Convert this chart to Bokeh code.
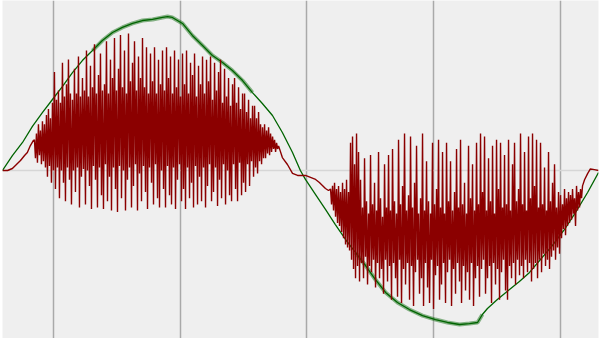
import numpy as np
from bokeh.plotting import figure
from bokeh.models import Range1d, Grid, FixedTicker
from bokeh.embed import file_html
from bokeh.resources import INLINE

# ---- data (time units, signal in % of green amplitude) ----
x_ticks = [0, 5, 10, 15, 20]
y_ticks = [0]

green_t = [-2.01, -1.62, -1.22, -0.83, -0.43, -0.04, 0.35, 0.75, 1.14, 1.54, 1.93, 2.33, 2.72,
           3.12, 3.51, 3.91, 4.30, 4.50, 4.69, 5.09, 5.48, 5.88, 6.27, 6.67, 7.06, 7.46, 7.85,
           8.24, 8.64, 9.03, 9.43, 9.74, 9.94, 10.34, 10.73, 11.12, 11.52, 11.91, 12.31, 12.70,
           13.10, 13.57, 14.04, 14.56, 15.07, 15.54, 16.02, 16.41, 16.73, 16.92, 17.12, 17.51,
           17.99, 18.38, 18.78, 19.21, 19.68, 20.16, 20.59, 21.07, 21.50]
green_v = [0, 9.7, 18.2, 28.6, 37.7, 46.1, 54.5, 63.6, 71.4, 77.9, 84.4, 89.6, 92.9,
           95.5, 97.4, 98.1, 99.4, 100.0, 99.4, 95.5, 87.7, 81.2, 74.7, 70.1, 64.9, 58.4, 50.6,
           43.5, 35.7, 24.7, 11.7, 0, -5.8, -15.6, -25.3, -35.1, -44.8, -53.2, -61.7, -70.8,
           -79.2, -85.7, -90.3, -94.2, -96.8, -98.7, -100.0, -99.4, -98.7, -93.5, -89.6, -83.8,
           -77.3, -72.1, -66.2, -57.8, -48.7, -38.3, -27.3, -14.3, -1.3]
green_fuzz_spans = [(1.5, 7.9), (11.9, 16.95)]

red_lead_t = [-2.01, -1.81, -1.62, -1.46, -1.30, -1.14, -1.03, -0.91, -0.79]
red_lead_v = [0, 0, 1.3, 3.9, 6.5, 9.7, 11.7, 16.2, 19.5]

red_burst1_span = (-0.75, 8.88)
red_burst1_v = [
    20, 8, 24, 5, 30, 10, 26, 4, 32, 6,
    30, 2, 36, -4, 40, 3, 34, -8, 44, 0,
    64, -12, 46, 2, 52, -18, 44, 0, 70, -8,
    48, -20, 56, 2, 72, -6, 50, -22, 46, 0,
    66, -14, 50, 2, 74, -24, 48, -4, 60, 1,
    52, -22, 78, 0, 48, -10, 68, -25, 54, 3,
    82, -6, 50, -24, 62, 2, 76, -16, 52, -25,
    56, 4, 84, -20, 50, -4, 72, -26, 60, 2,
    86, -12, 52, -27, 66, 3, 88, -18, 54, 0,
    78, -26, 50, -6, 89, 2, 58, -24, 70, -10,
    84, 4, 52, -26, 74, -2, 60, -20, 86, 3,
    54, -14, 80, -25, 50, 2, 76, -8, 58, -22,
    80, 4, 50, -18, 72, -24, 56, 0, 78, -12,
    52, -24, 80, 3, 60, -16, 74, -22, 50, 2,
    78, -25, 54, -6, 72, 4, 48, -20, 76, -12,
    56, -25, 78, 2, 50, -18, 70, -8, 62, -24,
    76, 3, 48, -22, 68, -4, 56, -20, 74, 2,
    50, -24, 72, -10, 58, 4, 74, -20, 46, -14,
    70, 2, 52, -23, 64, -6, 72, -18, 44, 4,
    66, -22, 48, 0, 60, -16, 42, -20, 56, 4,
    60, -12, 44, -20, 54, 5, 40, -16, 50, -8,
    50, -14, 38, 4, 46, -10, 34, 6, 42, -4,
    42, 2, 34, -2, 38, 6, 30, 4, 28, 8,
    30, 8, 26, 11, 28, 10, 24, 12, 22, 14,
    20, 12, 18, 14, 16]

red_mid_t = [9.03, 9.23, 9.43, 9.63, 9.94, 10.14, 10.34, 10.49, 10.61, 10.73, 10.85]
red_mid_v = [8.4, 3.9, -1.9, -3.2, -3.2, -4.5, -5.8, -7.8, -9.7, -11.7, -13.0]

red_burst2_span = (10.93, 20.87)
red_burst2_v = [
    -12, -22, -10, -26, -8, -30, -12, -34, -10, -36,
    -14, -40, -8, -44, -12, -48, -6, -50, -14, -52,
    18, -58, 22, -64, 4, -70, 24, -62, 12, -72,
    -6, -60, -24, -70, 8, -56, -20, -74, -28, -62,
    10, -66, -22, -58, -8, -76, -26, -60, 12, -70,
    -18, -64, -30, -80, 4, -58, -24, -72, 10, -62,
    -26, -84, 14, -60, -20, -70, -28, -82, 20, -58,
    -22, -86, -10, -64, 24, -74, -26, -60, -16, -84,
    22, -62, -24, -88, -8, -66, 16, -58, -28, -80,
    -18, -70, 24, -88, -26, -60, 6, -76, -20, -86,
    -28, -58, 18, -90, -22, -68, -12, -62, 20, -84,
    -24, -74, 12, -60, -28, -86, 18, -66, -20, -58,
    6, -88, -26, -64, -14, -80, 14, -60, -24, -72,
    20, -86, -22, -62, -8, -78, -28, -66, 16, -84,
    -18, -60, 4, -88, -26, -70, 18, -62, -22, -82,
    24, -64, -14, -58, 22, -80, -26, -70, 8, -62,
    -20, -86, 16, -60, -28, -74, 20, -64, -12, -84,
    18, -66, -24, -58, 10, -78, -22, -84, 20, -62,
    -26, -70, 4, -60, 18, -74, -20, -58, -12, -68,
    24, -62, -22, -70, 12, -58, -26, -66, 22, -60,
    -18, -72, 24, -64, -10, -60, 20, -70, -24, -58,
    18, -66, -22, -54, 2, -62, -26, -58, 12, -64,
    -20, -56, -8, -52, 4, -58, -24, -50, -14, -54,
    -16, -44, -22, -38, -12, -42, -18, -36, -14, -34,
    -16, -32, -12, -28, -18, -36, -10, -26, -14, -24,
    -12, -18, -10]

red_tail_t = [20.95, 21.07, 21.18, 21.34, 21.50]
red_tail_v = [-6, -2, 1, 0.6, 0]

# ---- build series ----
b1_t = np.linspace(red_burst1_span[0], red_burst1_span[1], len(red_burst1_v))
b2_t = np.linspace(red_burst2_span[0], red_burst2_span[1], len(red_burst2_v))
red_t = np.concatenate([red_lead_t, b1_t, red_mid_t, b2_t, red_tail_t])
red_v = np.concatenate([red_lead_v, red_burst1_v, red_mid_v, red_burst2_v, red_tail_v])

gt = np.array(green_t)
gv = np.array(green_v)

p = figure(width=600, height=338, output_backend="svg", toolbar_location=None,
           x_range=Range1d(-2.01, 21.50), y_range=Range1d(-109.1, 110.4),
           x_axis_location=None, y_axis_location=None,
           min_border_left=2, min_border_right=2, min_border_top=0, min_border_bottom=0)
p.background_fill_color = "#efefef"
p.border_fill_color = "white"
p.outline_line_color = None
for g in p.grid:
    g.visible = False

p.add_layout(Grid(dimension=0, ticker=FixedTicker(ticks=x_ticks),
                  grid_line_color="#a9a9a9", grid_line_width=1.5))
p.add_layout(Grid(dimension=1, ticker=FixedTicker(ticks=y_ticks),
                  grid_line_color="#d6d6d6", grid_line_width=1.5))

p.line(gt, gv, line_color="#006400", line_width=1.3)
for a, b in green_fuzz_spans:
    m = (gt >= a) & (gt <= b)
    p.line(gt[m], gv[m], line_color="#006400", line_width=4, line_alpha=0.45)

p.line(red_t, red_v, line_color="#8b0000", line_width=1.4)

open("out.html", "w").write(file_html(p, INLINE))
